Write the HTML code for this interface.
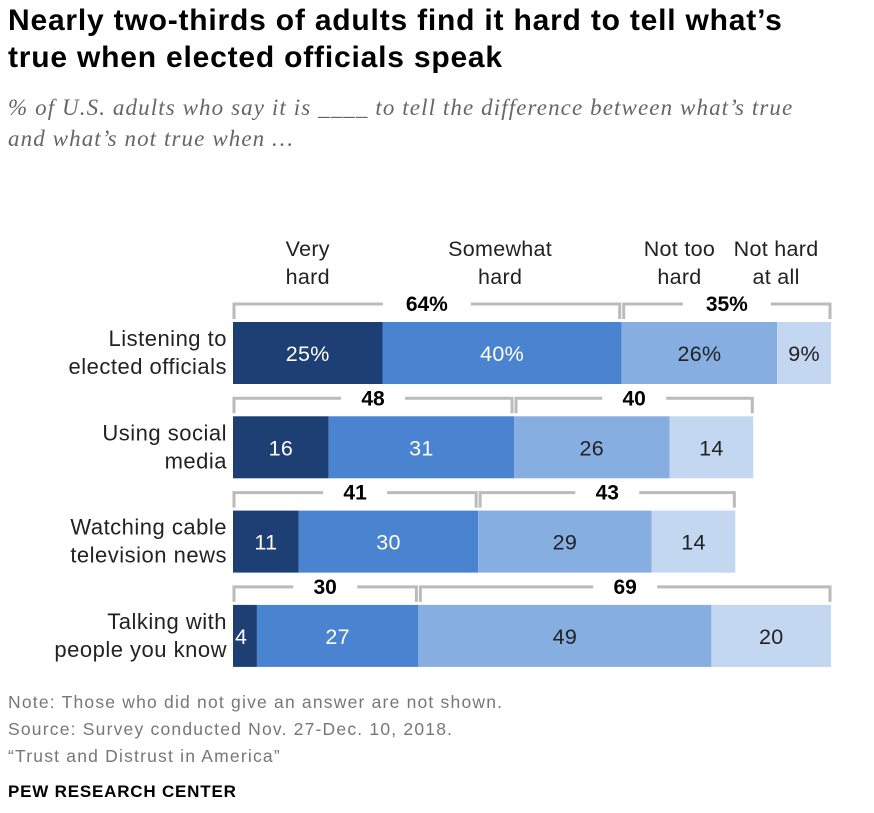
<!DOCTYPE html>
<html><head><meta charset="utf-8"><style>
body{margin:0;width:874px;height:813px;background:#fff;font-family:"Liberation Sans",sans-serif;overflow:hidden;position:relative}
.t{position:absolute;white-space:nowrap}
</style></head><body>
<div class="t" style="left:8px;top:2px;font-size:30px;letter-spacing:0.8px;font-weight:bold;line-height:37px;color:#000">Nearly two-thirds of adults find it hard to tell what’s<br>true when elected officials speak</div>
<div class="t" style="left:8px;top:92px;font-family:'Liberation Serif',serif;font-style:italic;font-size:23px;letter-spacing:1.1px;line-height:31px;color:#666">% of U.S. adults who say it is ____ to tell the difference between what’s true<br>and what’s not true when …</div>
<svg id="c" width="874" height="813" style="position:absolute;left:0;top:0"></svg>
<div class="t" style="left:8px;top:689px;font-size:17.5px;letter-spacing:1.2px;line-height:27px;color:#777">Note: Those who did not give an answer are not shown.<br>Source: Survey conducted Nov. 27-Dec. 10, 2018.<br>“Trust and Distrust in America”</div>
<div class="t" style="left:8px;top:782px;font-size:17px;letter-spacing:0.8px;font-weight:bold;color:#000">PEW RESEARCH CENTER</div>
<script>
const categories=[["Listening to","elected officials"],["Using social","media"],["Watching cable","television news"],["Talking with","people you know"]];
const veryHard=[25,16,11,4];
const somewhatHard=[40,31,30,27];
const notTooHard=[26,26,29,49];
const notHardAtAll=[9,14,14,20];
const netHard=[64,48,41,30];
const netNotHard=[35,40,43,69];
const seriesNames=[["Very","hard"],["Somewhat","hard"],["Not too","hard"],["Not hard","at all"]];
const colors=["#1d3f73","#4a83d0","#86aee0","#c3d7f0"];
const txtCol=["#fff","#fff","#222","#222"];
const headerShift=[0,-2,-20,-28];
const x0=233,scale=5.98,y0=322,step=94.3,bh=62;
const X=v=>x0+v*scale, Y=i=>y0+i*step;
const svg=document.getElementById('c');const NS="http://www.w3.org/2000/svg";
function mk(tag,a,txt){const e=document.createElementNS(NS,tag);for(const k in a)e.setAttribute(k,a[k]);if(txt!=null)e.textContent=txt;svg.appendChild(e);return e;}
const series=[veryHard,somewhatHard,notTooHard,notHardAtAll];
let acc=0;
for(let s=0;s<4;s++){const v=series[s][0];const cx=X(acc+v/2)+headerShift[s];acc+=v;
 seriesNames[s].forEach((ln,j)=>{const t=mk('text',{x:cx,y:256+j*28,'text-anchor':'middle','font-size':21.5,'letter-spacing':0.3,fill:'#222'},ln);
 
 });}
for(let i=0;i<4;i++){
 const y=Y(i);let a=0;
 categories[i].forEach((ln,j)=>{const t=mk('text',{x:227,y:y+24+j*28,'text-anchor':'end','font-size':22,'letter-spacing':0.5,fill:'#222'},ln);
 
 });
 for(let s=0;s<4;s++){const v=series[s][i];
  const r=mk('rect',{x:X(a),y:y,width:v*scale,height:bh,fill:colors[s]});
  
  
  const lbl=(i===0?v+'%':''+v);
  const small=v*scale<30;
  const tx=small?X(a)+2:X(a+v/2);
  const t=mk('text',{x:tx,y:y+bh/2+8,'text-anchor':small?'start':'middle','font-size':21.5,'letter-spacing':0.3,fill:txtCol[s]},lbl);
  
  
  a+=v;}
 const by=y-18;
 const mid=veryHard[i]+somewhatHard[i], end=mid+notTooHard[i]+notHardAtAll[i];
 const groups=[[0,mid,netHard[i]],[mid,end,netNotHard[i]]];
 groups.forEach((g,k)=>{const xa=X(g[0])+(k?2:1),xb=X(g[1])-(k?1:2),cx=(xa+xb)/2;
  const lab=i===0?g[2]+'%':''+g[2];const hw=i===0?44:32;
  const p=mk('path',{d:`M${xa},${by+15}V${by}H${cx-hw}M${cx+hw},${by}H${xb}V${by+15}`,stroke:'#bbb','stroke-width':3,fill:'none'});
  
  
  const t=mk('text',{x:cx,y:by+7,'text-anchor':'middle','font-size':21,'font-weight':'bold',fill:'#000'},lab);
  
  });
}
</script>
</body></html>
